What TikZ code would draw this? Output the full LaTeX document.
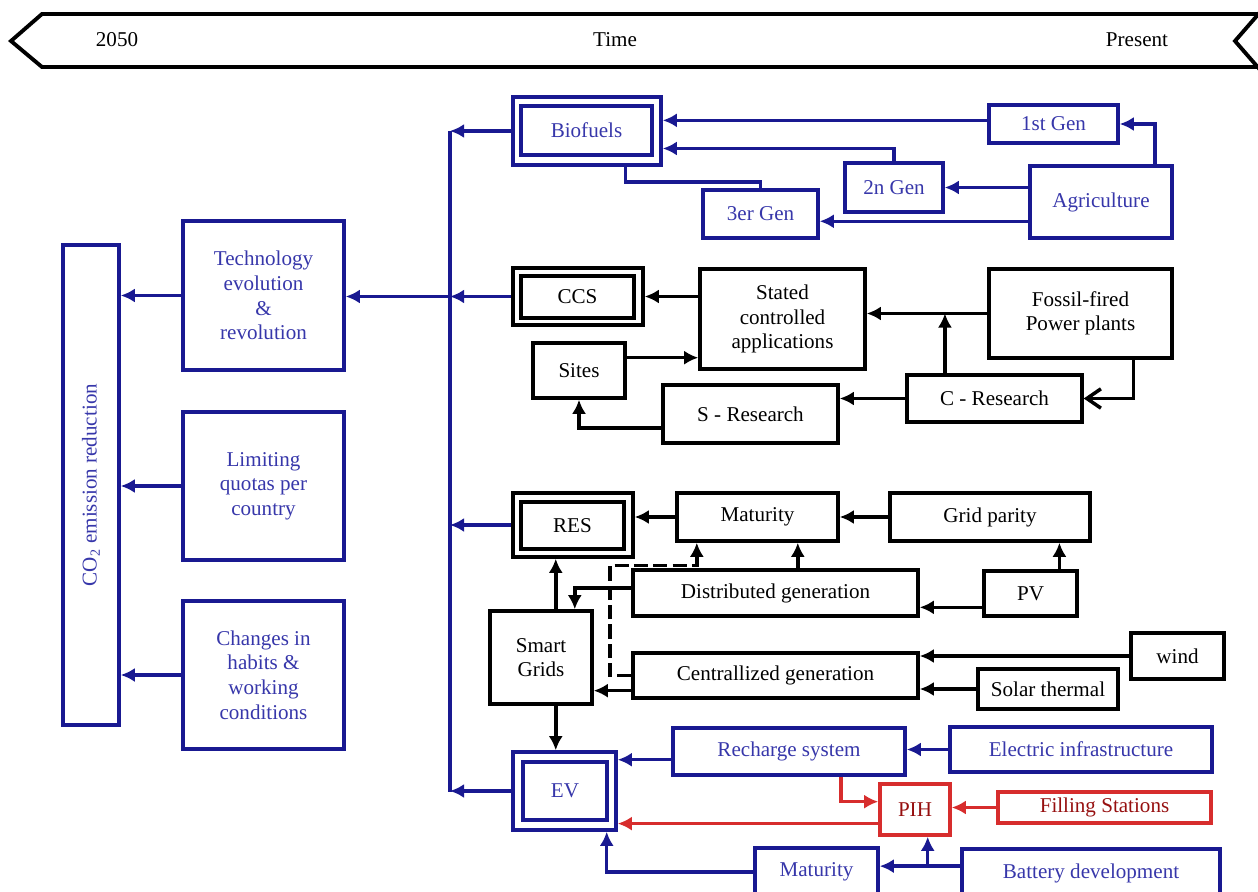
\documentclass[tikz,border=0pt]{standalone}
\usepackage{fontspec}
\setmainfont{Liberation Serif}
\usepackage{tikz}
\usetikzlibrary{arrows.meta}
\definecolor{evblue}{RGB}{25,25,145}
\definecolor{evtext}{RGB}{55,55,170}
\definecolor{pihred}{RGB}{215,45,45}
\definecolor{pihtext}{RGB}{150,15,15}
\tikzset{wh/.style 2 args={minimum width=#1*0.02cm, minimum height=#2*0.02cm}}
\tikzset{box/.style={draw, line width=2pt, inner sep=0pt, align=center,
  font=\fontsize{12}{14}\selectfont}}
\tikzset{bbox/.style={box, draw=evblue, text=evtext}}
\tikzset{rbox/.style={box, draw=pihred, text=pihtext}}
\tikzset{arr/.style={line width=2pt, -{Latex[length=8pt,width=8pt]}}}
\tikzset{barr/.style={arr, draw=evblue}}
\tikzset{rarr/.style={arr, draw=pihred}}

\begin{document}
\begin{tikzpicture}[x=0.02cm, y=-0.02cm]
\path[use as bounding box, clip] (0,0) rectangle (1258,892);

% time band
\draw[line width=2.2pt, line join=miter] (1262,14) -- (42,14) -- (11,41) -- (42,67) -- (1262,67);
\draw[line width=2.2pt] (1262,10) -- (1235,41) -- (1262,72);
\node[font=\fontsize{12}{14}\selectfont] (yr) at (117,40) {2050};
\node[font=\fontsize{12}{14}\selectfont] (time) at (615,40) {Time};
\node[font=\fontsize{12}{14}\selectfont] (now) at (1137,40) {Present};

% left column
\node[bbox, wh={56}{480}] (co2) at (91,485) {};
\node[text=evtext, rotate=90, font=\fontsize{12}{14}\selectfont] (co2label) at (co2.center) {CO\textsubscript{2} emission reduction};
\node[bbox, wh={161}{149}] (tech) at (263.5,295.5) {Technology\\evolution\\\&\\revolution};
\node[bbox, wh={161}{148}] (limit) at (263.5,486) {Limiting\\quotas per\\country};
\node[bbox, wh={161}{148}] (habits) at (263.5,675) {Changes in\\habits \&\\working\\conditions};

\draw[barr] (tech.west) -- (tech.west -| co2.east);
\draw[barr] (limit.west) -- (limit.west -| co2.east);
\draw[barr] (habits.west) -- (habits.west -| co2.east);

% trunk
\coordinate (trunktop) at (450,131);
\coordinate (trunkbot) at (450,792);
\draw[evblue, line width=2pt] (trunktop) -- (trunkbot);

% biofuels
\node[bbox, wh={148}{68}] (biofuelsout) at (587,131) {};
\node[bbox, wh={131}{49}] (biofuels) at (586.5,130.5) {Biofuels};
\node[bbox, wh={129}{38}] (gen1) at (1053.5,124) {1st Gen};
\node[bbox, wh={98}{49}] (gen2) at (894,187.5) {2n Gen};
\node[bbox, wh={115}{48}] (gen3) at (760.5,214) {3er Gen};
\node[bbox, wh={142}{72}] (agri) at (1101,202) {Agriculture};

\draw[barr] (biofuelsout.west) -- (biofuelsout.west -| trunktop);
\draw[barr] (gen1.west |- biofuelsout.8) -- (biofuelsout.8);
\draw[barr] (gen2.north) |- (biofuelsout.-13);
\draw[evblue, line width=2pt] (biofuelsout.-43) -- ++(0,15) -| (gen3.north);
\draw[barr] (agri.35) |- (gen1.east);
\draw[barr] (agri.west |- gen2.east) -- (gen2.east);
\draw[barr] (agri.west |- gen3.-7) -- (gen3.-7);

% ccs
\node[box, wh={130}{57}] (ccsout) at (578,296.5) {};
\node[box, wh={113}{42}] (ccs) at (577.5,297) {CCS};
\node[box, wh={165}{100}] (stated) at (782.5,319) {Stated\\controlled\\applications};
\node[box, wh={92}{55}] (sites) at (579,370.5) {Sites};
\node[box, wh={175}{58}] (sres) at (750.5,414) {S - Research};
\node[box, wh={183}{89}] (fossil) at (1080.5,313.5) {Fossil-fired\\Power plants};
\node[box, wh={175}{47}] (cres) at (994.5,398.5) {C - Research};

\draw[barr] (ccsout.west) -- (ccsout.west -| trunktop);
\draw[barr] (ccsout.west -| trunktop) -- (tech.east |- ccsout.west);
\draw[arr] (stated.west |- ccsout.east) -- (ccsout.east);
\draw[arr] (sites.15) -- (sites.15 -| stated.west);
\draw[arr] (sres.189) -| (sites.south);
\draw[arr] (fossil.west) -- (fossil.west -| stated.east);
\draw[arr] (cres.153) -- (cres.153 |- fossil.west);
\draw[line width=2pt, -{Straight Barb[length=8pt,width=11pt]}] (fossil.-41) |- (cres.east);
\draw[arr] (cres.west) -- (cres.west -| sres.east);

% res
\node[box, wh={120}{64}] (resout) at (573,525) {};
\node[box, wh={103}{47}] (res) at (572.5,525.5) {RES};
\node[box, wh={161}{48}] (matur) at (757.5,517) {Maturity};
\node[box, wh={200}{48}] (parity) at (990,517) {Grid parity};
\node[box, wh={93}{45}] (pv) at (1030.5,593.5) {PV};
\node[box, wh={285}{46}] (distgen) at (775.5,593) {Distributed generation};
\node[box, wh={102}{93}] (smart) at (541,657.5) {Smart\\Grids};
\node[box, wh={285}{45}] (centgen) at (775.5,675.5) {Centrallized generation};
\node[box, wh={93}{46}] (wind) at (1177.5,656) {wind};
\node[box, wh={140}{40}] (solar) at (1048,689) {Solar thermal};

\draw[barr] (resout.west) -- (resout.west -| trunktop);
\draw[arr] (matur.west) -- (matur.west -| resout.east);
\draw[arr] (parity.west) -- (parity.west -| matur.east);
\draw[arr] (pv.40) -- (pv.40 |- parity.south);
\draw[arr] (pv.196) -- (pv.196 -| distgen.east);
\draw[arr] (distgen.48) -- (distgen.48 |- matur.south);
\draw[arr] (distgen.178) -| (smart.55);
\draw[arr] (smart.73) -- (smart.73 |- resout.south);
\draw[arr] (centgen.186) -- (centgen.186 -| smart.east);
\draw[arr, dash pattern=on 8pt off 3pt] (centgen.west) -- ++(-21,0) -- ++(0,-110) -| (matur.-157);
\draw[arr] (wind.west) -- (wind.west -| centgen.east);
\draw[arr] (solar.west) -- (solar.west -| centgen.east);

% ev
\node[bbox, wh={103}{78}] (evout) at (564.5,791) {};
\node[bbox, wh={84}{58}] (ev) at (565,791) {EV};
\node[bbox, wh={232}{47}] (recharge) at (789,751.5) {Recharge system};
\node[bbox, wh={262}{45}] (elec) at (1081,749.5) {Electric infrastructure};
\node[rbox, wh={70}{51}] (pih) at (915,809.5) {PIH};
\node[rbox, wh={213}{31}] (filling) at (1104.5,807.5) {Filling Stations};
\node[bbox, wh={123}{48}] (evmatur) at (816.5,872) {Maturity};
\node[bbox, wh={258}{48}] (battery) at (1091,873) {Battery development};

\draw[arr] (smart.-73) -- (smart.-73 |- evout.north);
\draw[barr] (evout.west) -- (evout.west -| trunkbot);
\draw[barr] (recharge.184) -- (recharge.184 -| evout.east);
\draw[barr] (elec.west) -- (elec.west -| recharge.east);
\draw[rarr] (recharge.-26) |- (pih.168);
\draw[rarr] (pih.201) -- (pih.201 -| evout.east);
\draw[rarr] (filling.west) -- (filling.west -| pih.east);
\draw[barr] (battery.177) -- (battery.177 -| evmatur.east);
\draw[barr] (pih.-65 |- battery.177) -- (pih.-65);
\draw[barr] (evmatur.west) -| (evout.-44);

\end{tikzpicture}
\end{document}
